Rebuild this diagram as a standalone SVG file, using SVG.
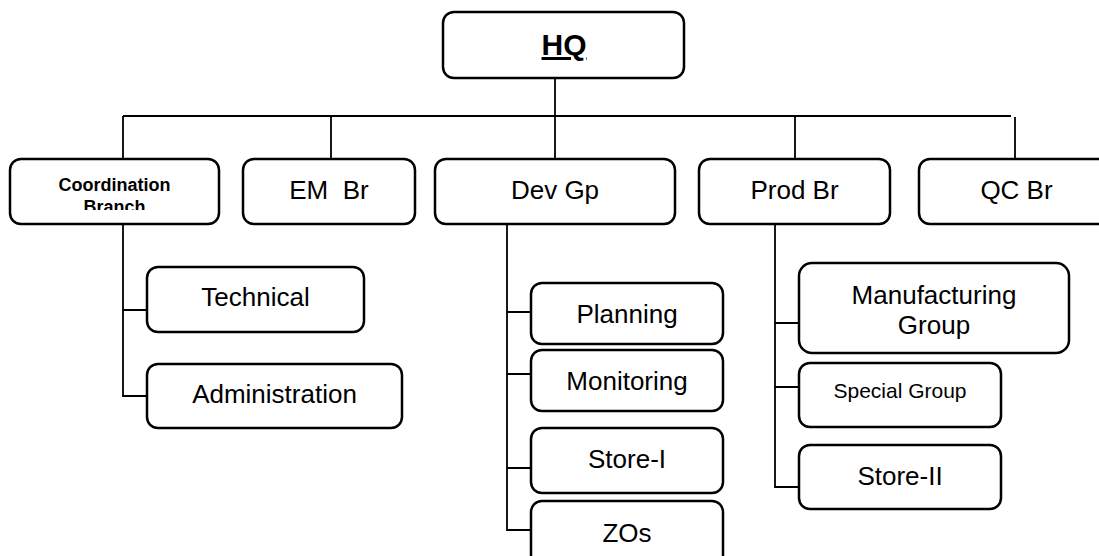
<svg xmlns="http://www.w3.org/2000/svg" width="1099" height="556" viewBox="0 0 1099 556">
<style>
.box{fill:#fff;stroke:#000;stroke-width:2.5}
.ln{fill:none;stroke:#000;stroke-width:1.8}
text{font-family:"Liberation Sans",Arial,sans-serif;fill:#000;text-anchor:middle}
.t{font-size:26px}
.s{font-size:21px}
.b{font-size:18px;font-weight:bold}
</style>
<defs>
<clipPath id="cbclip"><rect x="10" y="160" width="209" height="50"/></clipPath>
</defs>
<rect width="1099" height="556" fill="#fff"/>
<g id="connectors">
<path class="ln" d="M555 78V224"/>
<path class="ln" d="M123 116H1011"/>
<path class="ln" d="M123 116V159M331 116V159M795 116V159M1015 117V159"/>
<path class="ln" d="M123 224V396H147M123 310H147"/>
<path class="ln" d="M507 224V530H531M507 312H531M507 374H531M507 468H531"/>
<path class="ln" d="M775 224V487H799M775 323H799M775 387H799"/>
</g>
<g id="hq"><rect class="box" x="443" y="12" width="241" height="66" rx="11"/><text x="564" y="55" style="font-size:30px;font-weight:bold" text-decoration="underline">HQ</text></g>
<g id="coord"><rect class="box" x="10" y="159" width="209" height="65" rx="11"/><g clip-path="url(#cbclip)"><text class="b" x="114.5" y="191">Coordination</text><text class="b" x="114.5" y="213">Branch</text></g></g>
<g id="em"><rect class="box" x="243" y="159" width="172" height="65" rx="11"/><text class="t" x="329" y="199" xml:space="preserve">EM  Br</text></g>
<g id="dev"><rect class="box" x="435" y="159" width="240" height="65" rx="11"/><text class="t" x="555" y="199">Dev Gp</text></g>
<g id="prod"><rect class="box" x="699" y="159" width="191" height="65" rx="11"/><text class="t" x="794.5" y="199">Prod Br</text></g>
<g id="qc"><rect class="box" x="919" y="159" width="195" height="65" rx="11"/><text class="t" x="1016.5" y="199">QC Br</text></g>
<g id="technical"><rect class="box" x="147" y="267" width="217" height="65" rx="11"/><text class="t" x="255.5" y="306">Technical</text></g>
<g id="admin"><rect class="box" x="147" y="364" width="255" height="64" rx="11"/><text class="t" x="274.5" y="403">Administration</text></g>
<g id="planning"><rect class="box" x="531" y="283" width="192" height="61" rx="11"/><text class="t" x="627" y="323">Planning</text></g>
<g id="monitoring"><rect class="box" x="531" y="350" width="192" height="61" rx="11"/><text class="t" x="627" y="390">Monitoring</text></g>
<g id="store1"><rect class="box" x="531" y="428" width="192" height="65" rx="11"/><text class="t" x="627" y="468">Store-I</text></g>
<g id="zos"><rect class="box" x="531" y="501" width="192" height="70" rx="11"/><text class="t" x="627" y="542">ZOs</text></g>
<g id="manufacturing"><rect class="box" x="799" y="263" width="270" height="90" rx="13"/><text class="t" x="934" y="304">Manufacturing</text><text class="t" x="934" y="334">Group</text></g>
<g id="special"><rect class="box" x="799" y="363" width="202" height="64" rx="11"/><text class="s" x="900" y="398">Special Group</text></g>
<g id="store2"><rect class="box" x="799" y="445" width="202" height="64" rx="11"/><text class="t" x="900" y="485">Store-II</text></g>
</svg>
